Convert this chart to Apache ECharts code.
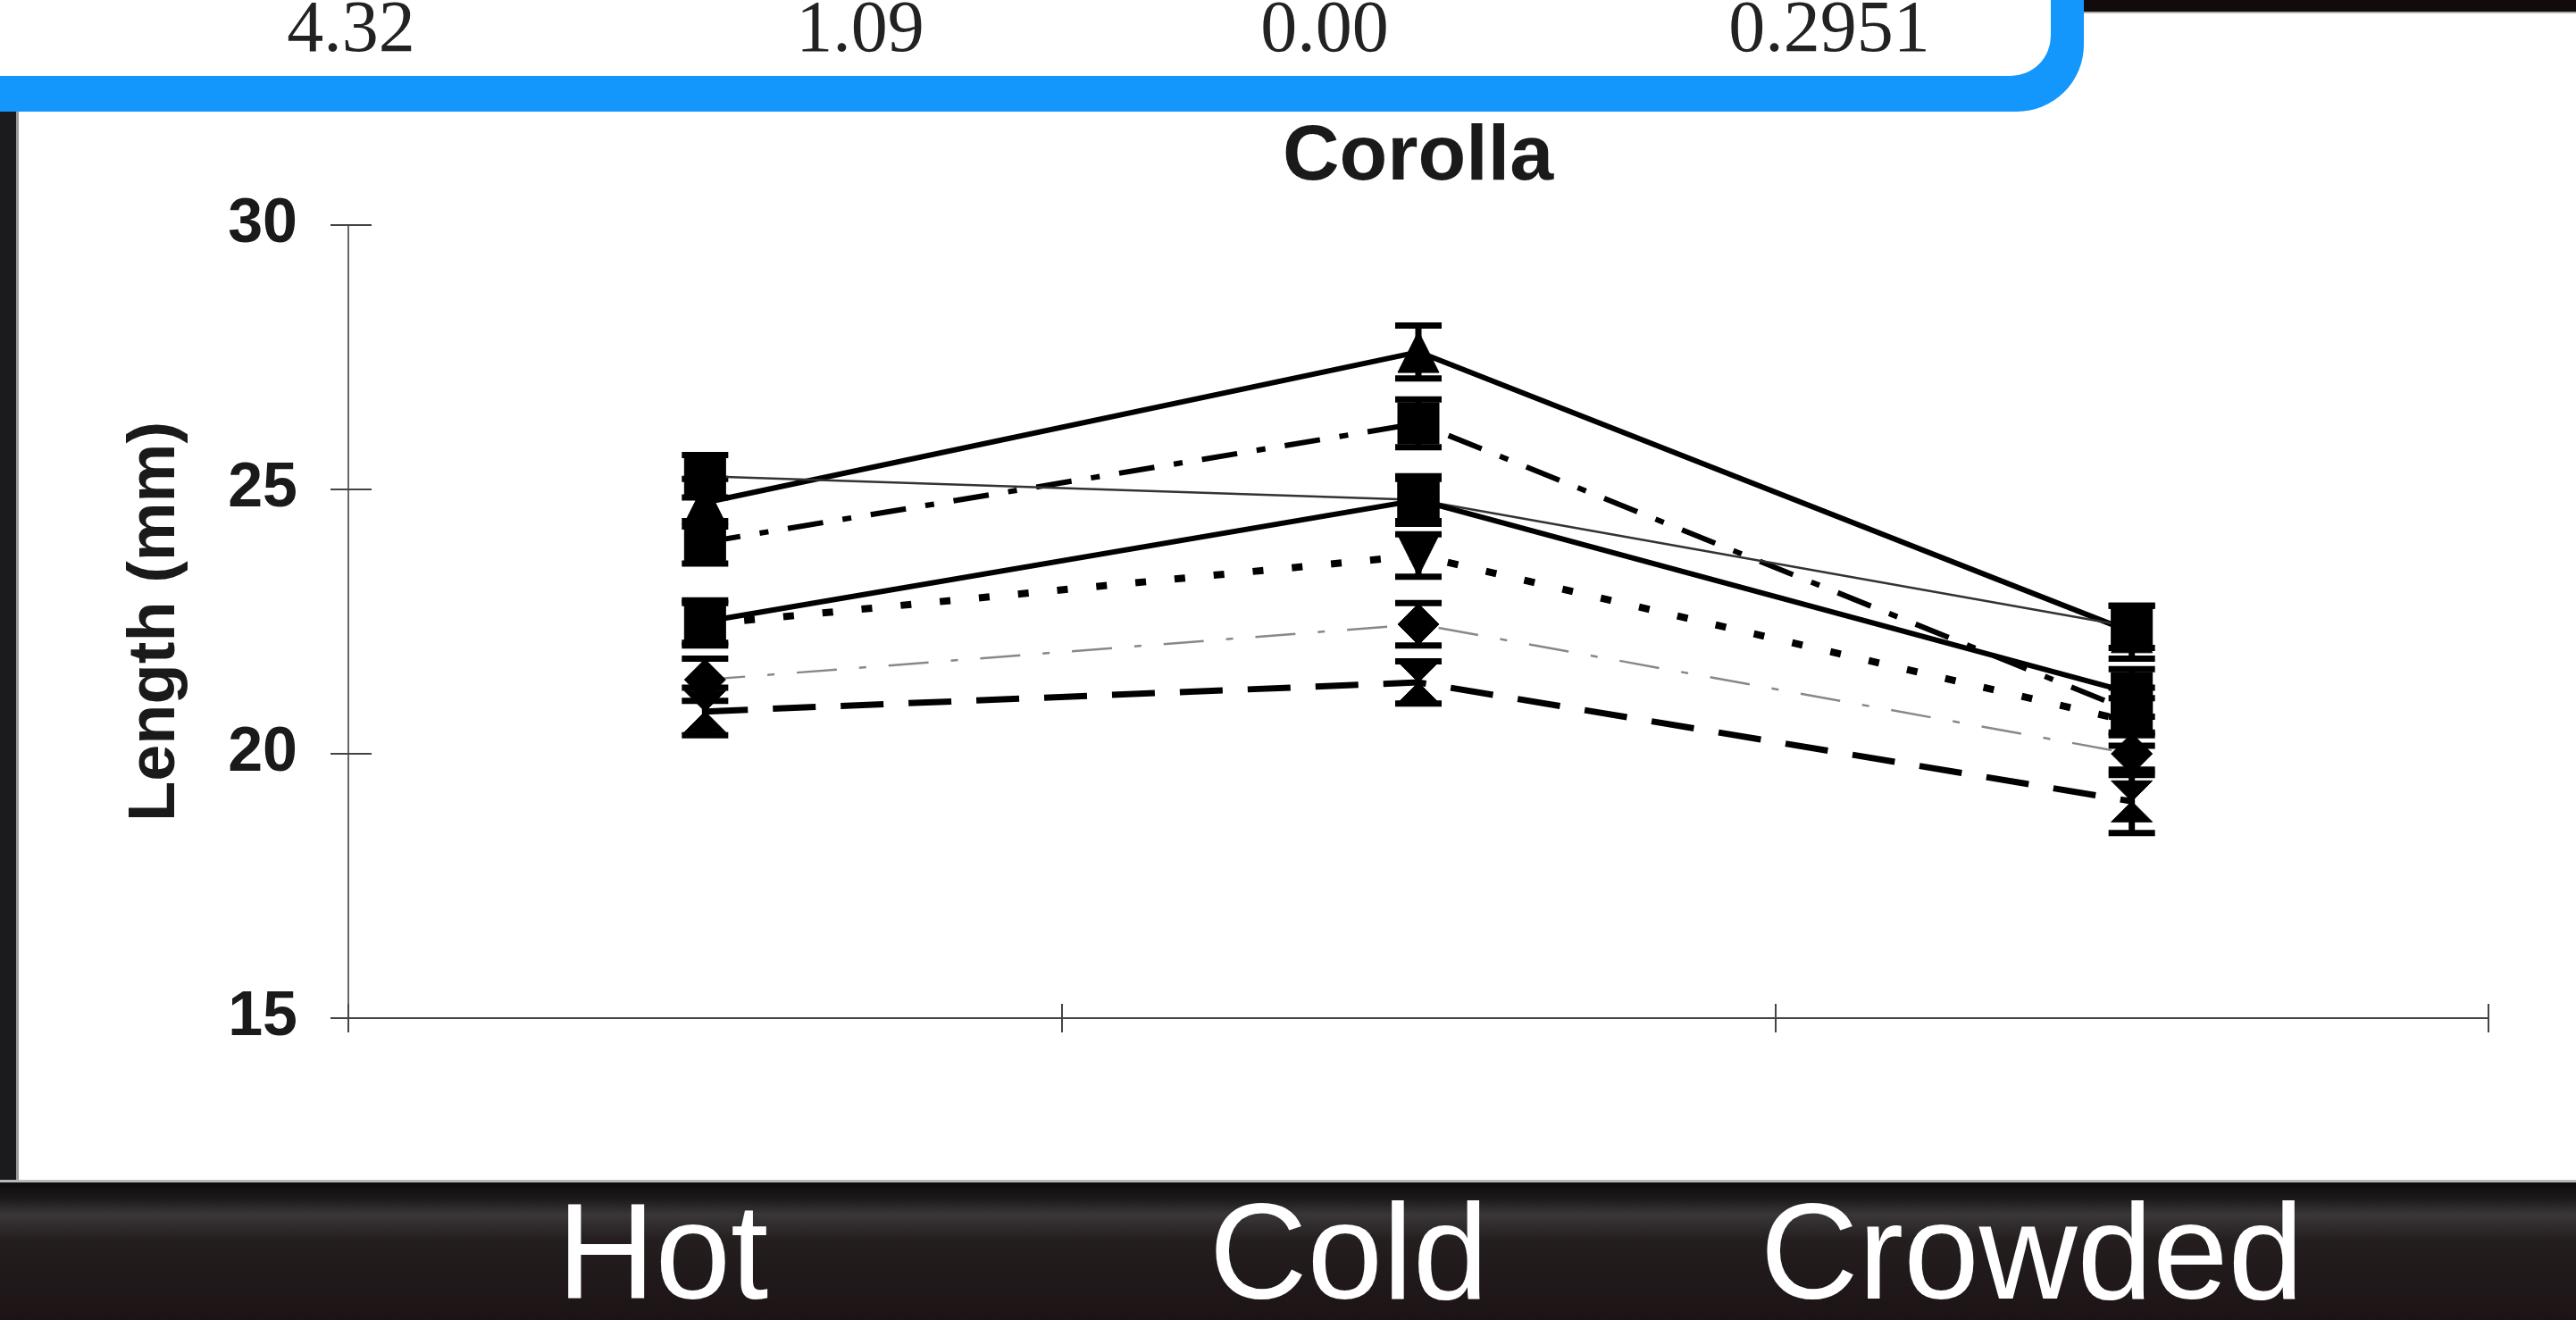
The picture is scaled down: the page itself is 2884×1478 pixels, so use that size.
<!DOCTYPE html>
<html>
<head>
<meta charset="utf-8">
<script src="https://cdn.jsdelivr.net/npm/echarts@6/dist/echarts.min.js"></script>
<style>
html,body{margin:0;padding:0;background:#fff;}
#chart{width:2884px;height:1478px;}
</style>
</head>
<body>
<div id="chart"></div>
<script>
// ---- data ----
const categories = ['Hot', 'Cold', 'Crowded'];
const yTicks = [15, 20, 25, 30];
const tableValues = ['4.32', '1.09', '0.00', '0.2951'];

const solidUpper   = [24.75, 27.6, 22.3];
const dashDotUpper = [24.0, 26.25, 20.8];
const thinSolid    = [25.25, 24.8, 22.4];
const solidLower   = [22.5, 24.8, 21.15];
const dottedMid    = [22.45, 23.75, 20.6];
const thinDashDot  = [21.4, 22.45, 20.0];
const dashedLower  = [20.8, 21.35, 19.1];

const errSolidUpper   = [0.45, 0.5, 0.5];
const errDashDotUpper = [0.4, 0.45, 0.45];
const errThinSolid    = [0.4, 0.4, 0.4];
const errSolidLower   = [0.4, 0.45, 0.45];
const errDottedMid    = [0.4, 0.4, 0.45];
const errThinDashDot  = [0.4, 0.4, 0.4];
const errDashedLower  = [0.45, 0.4, 0.6];

// ---- styles ----
const lineDefs = [
  {name:'A', values: solidUpper,   err: errSolidUpper,   color:'#000', width:6, type:'solid',          symbol:'triangle'},
  {name:'B', values: dashDotUpper, err: errDashDotUpper, color:'#000', width:6, type:[40,22,10,22],     symbol:'rect'},
  {name:'C', values: thinSolid,    err: errThinSolid,    color:'#333', width:2.5, type:'solid',        symbol:'rect'},
  {name:'D', values: solidLower,   err: errSolidLower,   color:'#000', width:6, type:'solid',          symbol:'rect'},
  {name:'E', values: dottedMid,    err: errDottedMid,    color:'#000', width:8, type:[12,32],          symbol:'path://M0,0 L10,0 L5,10 Z'},
  {name:'F', values: thinDashDot,  err: errThinDashDot,  color:'#888', width:2.5, type:[45,25,8,25],    symbol:'diamond'},
  {name:'G', values: dashedLower,  err: errDashedLower,  color:'#000', width:7, type:[48,28],          symbol:'path://M0,0 L10,0 L0,10 L10,10 Z'}
];

const series = [];
lineDefs.forEach(function(d){
  const errData = d.values.map(function(v, i){ return [i, v - d.err[i], v + d.err[i]]; });
  series.push({
    type:'custom', name: d.name + ' err', xAxisIndex:0, yAxisIndex:0, z:3,
    data: errData, encode:{x:0, y:[1,2]}, silent:true,
    renderItem: function(params, api){
      const x = api.value(0);
      const lo = api.coord([x, api.value(1)]);
      const hi = api.coord([x, api.value(2)]);
      const w = 26;
      const st = {stroke:'#000', lineWidth:7};
      return {type:'group', children:[
        {type:'line', shape:{x1:lo[0], y1:lo[1], x2:hi[0], y2:hi[1]}, style:st},
        {type:'line', shape:{x1:lo[0]-w, y1:lo[1], x2:lo[0]+w, y2:lo[1]}, style:st},
        {type:'line', shape:{x1:hi[0]-w, y1:hi[1], x2:hi[0]+w, y2:hi[1]}, style:st}
      ]};
    }
  });
  series.push({
    type:'line', name: d.name, data: d.values, xAxisIndex:0, yAxisIndex:0, z:4,
    symbol: d.symbol, symbolSize: 46, showAllSymbol:true,
    itemStyle:{color:'#000', borderColor:'#000'},
    lineStyle:{color:d.color, width:d.width, type:d.type},
    animation:false
  });
});

const chart = echarts.init(document.getElementById('chart'), null, {renderer:'canvas'});
const gridBox = {left:390, top:252, width:2396, height:888};

chart.setOption({
  animation:false,
  backgroundColor:'#ffffff',
  title:{
    text:'Corolla', left:1431, top:128,
    textStyle:{fontFamily:'Liberation Sans, Arial, sans-serif', fontWeight:'bold', fontSize:88, color:'#1a1a1a'}
  },
  grid: gridBox,
  xAxis:[
    {type:'category', data:categories, boundaryGap:true, position:'bottom',
     axisLine:{lineStyle:{color:'#444', width:2}},
     axisTick:{show:true, inside:false, length:16, lineStyle:{color:'#444', width:2}},
     axisLabel:{show:false}},
    {type:'category', data:categories, boundaryGap:true, position:'bottom',
     axisLine:{show:false},
     axisTick:{show:true, inside:true, length:16, lineStyle:{color:'#444', width:2}},
     axisLabel:{show:false}}
  ],
  yAxis:[
    {type:'value', min:yTicks[0], max:yTicks[yTicks.length-1], interval:5, position:'left',
     name:'Length (mm)', nameLocation:'middle', nameGap:178, nameRotate:90,
     nameTextStyle:{fontFamily:'Liberation Sans, Arial, sans-serif', fontWeight:'bold', fontSize:74, color:'#1a1a1a'},
     axisLine:{show:true, lineStyle:{color:'#666', width:2}},
     axisTick:{show:true, inside:false, length:20, lineStyle:{color:'#444', width:2}},
     axisLabel:{margin:57, fontFamily:'Liberation Sans, Arial, sans-serif', fontWeight:'bold', fontSize:70, color:'#1a1a1a'},
     splitLine:{show:false}},
    {type:'value', min:yTicks[0], max:yTicks[yTicks.length-1], interval:5, position:'left',
     axisLine:{show:false},
     axisTick:{show:true, inside:true, length:26, lineStyle:{color:'#444', width:2}},
     axisLabel:{show:false}, splitLine:{show:false}}
  ],
  series: series,
  graphic:[
    // left dark strip of the slide frame
    {type:'rect', z:-1, shape:{x:0, y:75, width:18, height:1250}, style:{fill:'#1b1b1d'}},
    {type:'rect', z:-1, shape:{x:18, y:75, width:3, height:1250}, style:{fill:'#9a9a9a'}},
    // top right dark strip
    {type:'rect', z:-1, shape:{x:2320, y:0, width:564, height:13}, style:{fill:'#120b0c'}},
    {type:'rect', z:-1, shape:{x:2320, y:13, width:564, height:2}, style:{fill:'#b0b0b0'}},
    // table box with blue border
    {type:'rect', z:1, shape:{x:-200, y:-200, width:2533, height:325, r:75}, style:{fill:'#1497fc'}},
    {type:'rect', z:1, shape:{x:-200, y:-200, width:2496, height:285, r:45}, style:{fill:'#ffffff'}},
    {type:'text', z:2, x:393, y:35, style:{text:tableValues[0], fontFamily:'Liberation Serif, Times New Roman, serif', fontSize:82, fill:'#222', align:'center', verticalAlign:'middle'}},
    {type:'text', z:2, x:963, y:35, style:{text:tableValues[1], fontFamily:'Liberation Serif, Times New Roman, serif', fontSize:82, fill:'#222', align:'center', verticalAlign:'middle'}},
    {type:'text', z:2, x:1483, y:35, style:{text:tableValues[2], fontFamily:'Liberation Serif, Times New Roman, serif', fontSize:82, fill:'#222', align:'center', verticalAlign:'middle'}},
    {type:'text', z:2, x:2048, y:35, style:{text:tableValues[3], fontFamily:'Liberation Serif, Times New Roman, serif', fontSize:82, fill:'#222', align:'center', verticalAlign:'middle'}},
    // bottom dark band
    {type:'rect', z:-1, shape:{x:0, y:1323, width:2884, height:155},
     style:{fill:new echarts.graphic.LinearGradient(0,0,0,1,[
       {offset:0, color:'#0d0b0c'}, {offset:0.12, color:'#1b191a'}, {offset:0.24, color:'#3a3739'},
       {offset:0.42, color:'#241e1f'}, {offset:1, color:'#1c1315'}])}},
    {type:'rect', z:-1, shape:{x:0, y:1321, width:2884, height:3}, style:{fill:'#b8b8b8'}},
    {type:'text', z:2, x:742, y:1412, style:{text:categories[0], fontFamily:'Liberation Sans, Arial, sans-serif', fontSize:152, fill:'#ffffff', align:'center', verticalAlign:'middle'}},
    {type:'text', z:2, x:1510, y:1412, style:{text:categories[1], fontFamily:'Liberation Sans, Arial, sans-serif', fontSize:152, fill:'#ffffff', align:'center', verticalAlign:'middle'}},
    {type:'text', z:2, x:2275, y:1412, style:{text:categories[2], fontFamily:'Liberation Sans, Arial, sans-serif', fontSize:152, fill:'#ffffff', align:'center', verticalAlign:'middle'}}
  ]
});
</script>
</body>
</html>
